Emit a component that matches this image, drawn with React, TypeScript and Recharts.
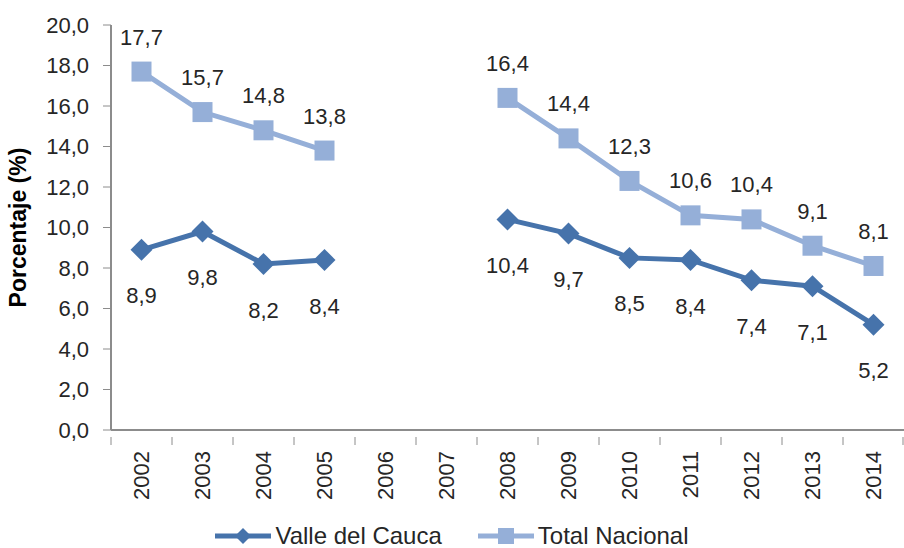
import { LineChart, Line, XAxis, YAxis, LabelList, Legend } from "recharts";

const YEARS = ["2002", "2003", "2004", "2005", "2006", "2007", "2008", "2009", "2010", "2011", "2012", "2013", "2014"];
const VALLE = [8.9, 9.8, 8.2, 8.4, null, null, 10.4, 9.7, 8.5, 8.4, 7.4, 7.1, 5.2];
const TOTAL = [17.7, 15.7, 14.8, 13.8, null, null, 16.4, 14.4, 12.3, 10.6, 10.4, 9.1, 8.1];
const Y_TICKS = [0, 2, 4, 6, 8, 10, 12, 14, 16, 18, 20];

const DARK = "#4673AB";
const LIGHT = "#95AFD8";
const FONT = "'Liberation Sans', Arial, sans-serif";
const TXT = "#262626";
const AXIS = "#8C8C8C";

const data = YEARS.map((year, i) => ({ year, valle: VALLE[i], total: TOTAL[i] }));

const fmt = (v: any) => (v == null ? "" : Number(v).toFixed(1).replace(".", ","));

const SquareDot = (props: any) => {
    const { cx, cy, index } = props;
    if (cx == null || cy == null) return <g key={`s-${index}`} />;
    return <rect key={`s-${index}`} x={cx - 10} y={cy - 10} width={20} height={20} fill={LIGHT} />;
};

const DiamondDot = (props: any) => {
    const { cx, cy, index } = props;
    if (cx == null || cy == null) return <g key={`d-${index}`} />;
    const r = 11;
    return (
        <polygon
            key={`d-${index}`}
            points={`${cx},${cy - r} ${cx + r},${cy} ${cx},${cy + r} ${cx - r},${cy}`}
            fill={DARK}
        />
    );
};

// year label, rotated, plus Excel-style tick marks between categories
const YearTick = ({ x, y, payload, index }: any) => {
    const half = payload.offset || 0;
    const last = index === YEARS.length - 1;
    return (
        <g>
            <line x1={x - half} y1={y - 1} x2={x - half} y2={y + 7} stroke={AXIS} />
            {last && <line x1={x + half - 1} y1={y - 1} x2={x + half - 1} y2={y + 7} stroke={AXIS} />}
            <text
                x={x}
                y={y + 13}
                transform={`rotate(-90, ${x}, ${y + 13})`}
                textAnchor="end"
                dominantBaseline="central"
                fontSize={22}
                fontFamily={FONT}
                fill={TXT}
            >
                {payload.value}
            </text>
        </g>
    );
};

const LegendContent = () => {
    const items = [
        { name: "Valle del Cauca", color: DARK, shape: "diamond" },
        { name: "Total Nacional", color: LIGHT, shape: "square" },
    ];
    return (
        <div style={{ display: "flex", justifyContent: "center", gap: 36, fontFamily: FONT, fontSize: 24, color: TXT, lineHeight: "26px" }}>
            {items.map((it) => (
                <div key={it.name} style={{ display: "flex", alignItems: "center" }}>
                    <svg width={56} height={24} style={{ marginRight: 4 }}>
                        <line x1={0} y1={12} x2={56} y2={12} stroke={it.color} strokeWidth={5} />
                        {it.shape === "diamond" ? (
                            <polygon points="28,4 36,12 28,20 20,12" fill={it.color} />
                        ) : (
                            <rect x={20} y={4} width={16} height={16} fill={it.color} />
                        )}
                    </svg>
                    <span>{it.name}</span>
                </div>
            ))}
        </div>
    );
};

export default function App() {
    return (
        <div style={{ position: "absolute", left: 0, top: 0, background: "#fff" }}>
            <LineChart width={904} height={548} data={data} margin={{ top: 25, right: 0, left: 0, bottom: 0 }}>
                <XAxis
                    dataKey="year"
                    scale="band"
                    tick={<YearTick />}
                    tickLine={false}
                    axisLine={{ stroke: AXIS, strokeWidth: 2 }}
                    interval={0}
                    height={93}
                />
                <YAxis
                    domain={[0, 20]}
                    ticks={Y_TICKS}
                    tickFormatter={fmt}
                    width={111}
                    tickSize={8}
                    tickMargin={14}
                    tickLine={{ stroke: AXIS }}
                    axisLine={{ stroke: AXIS, strokeWidth: 2 }}
                    tick={{ fontSize: 22, fontFamily: FONT, fill: TXT }}
                    label={{
                        value: "Porcentaje (%)",
                        angle: -90,
                        position: "insideLeft",
                        offset: 18,
                        style: { fontSize: 23, fontWeight: 700, fontFamily: FONT, fill: "#000", textAnchor: "middle" },
                    }}
                />
                <Legend verticalAlign="bottom" height={25} content={<LegendContent />} />
                <Line
                    dataKey="total"
                    stroke={LIGHT}
                    strokeWidth={5}
                    dot={<SquareDot />}
                    activeDot={false}
                    isAnimationActive={false}
                >
                    <LabelList
                        dataKey="total"
                        position="top"
                        offset={27}
                        formatter={fmt}
                        style={{ fontSize: 22, fontFamily: FONT, fill: TXT }}
                    />
                </Line>
                <Line
                    dataKey="valle"
                    stroke={DARK}
                    strokeWidth={5}
                    dot={<DiamondDot />}
                    activeDot={false}
                    isAnimationActive={false}
                >
                    <LabelList
                        dataKey="valle"
                        position="bottom"
                        offset={38}
                        formatter={fmt}
                        style={{ fontSize: 22, fontFamily: FONT, fill: TXT }}
                    />
                </Line>
            </LineChart>
        </div>
    );
}
